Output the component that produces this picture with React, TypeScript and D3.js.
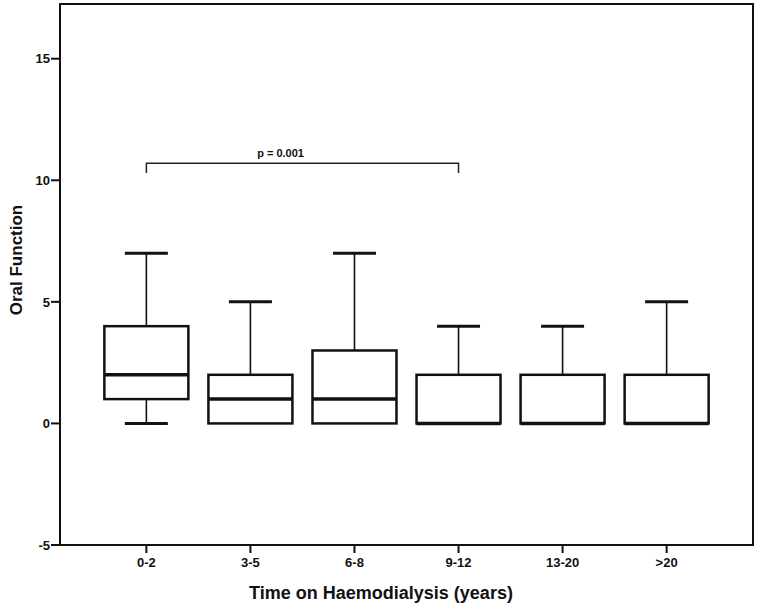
import React from "react";
import * as d3 from "d3";

// groups and five-number summaries
const groups = ["0-2", "3-5", "6-8", "9-12", "13-20", ">20"];
const mins = [0, 0, 0, 0, 0, 0];
const q1s = [1, 0, 0, 0, 0, 0];
const medians = [2, 1, 1, 0, 0, 0];
const q3s = [4, 2, 3, 2, 2, 2];
const maxs = [7, 5, 7, 4, 4, 5];

const yTicks = [-5, 0, 5, 10, 15];

// significance bracket
const bracketFrom = "0-2";
const bracketTo = "9-12";
const bracketY = 10.7;
const bracketLeg = 10.3;
const bracketLabel = "p = 0.001";

const width = 757;
const height = 608;
const margin = { top: 4, right: 4, bottom: 63, left: 60 };

const App = () => {
  const x = d3
    .scalePoint<string>()
    .domain(groups)
    .range([margin.left, width - margin.right])
    .padding(0.83);

  const y = d3
    .scaleLinear()
    .domain([-5, 17.25])
    .range([height - margin.bottom, margin.top]);

  const boxW = 84;
  const capW = 43;
  const font = "'Liberation Sans', Arial, sans-serif";

  const bx1 = x(bracketFrom) as number;
  const bx2 = x(bracketTo) as number;

  return (
    <svg
      width={width}
      height={height}
      style={{ position: "absolute", left: 0, top: 0, background: "#fff" }}
    >
      <rect x={0} y={0} width={width} height={height} fill="#fff" />

      {/* frame */}
      <rect
        x={margin.left}
        y={margin.top}
        width={width - margin.left - margin.right}
        height={height - margin.top - margin.bottom}
        fill="none"
        stroke="#111"
        strokeWidth={2}
      />

      {/* y axis ticks */}
      {yTicks.map((t) => (
        <g key={t} transform={`translate(${margin.left},${y(t)})`}>
          <line x1={-9} x2={0} stroke="#111" strokeWidth={2} />
          <text
            x={-10}
            dy="0.36em"
            textAnchor="end"
            fontFamily={font}
            fontWeight="bold"
            fontSize={13}
            fill="#111"
          >
            {t}
          </text>
        </g>
      ))}

      {/* x axis ticks */}
      {groups.map((g) => (
        <g key={g} transform={`translate(${x(g)},${height - margin.bottom})`}>
          <line y1={0} y2={8} stroke="#111" strokeWidth={2} />
          <text
            y={22}
            textAnchor="middle"
            fontFamily={font}
            fontWeight="bold"
            fontSize={13}
            fill="#111"
          >
            {g}
          </text>
        </g>
      ))}

      {/* boxes */}
      {groups.map((g, i) => {
        const cx = x(g) as number;
        return (
          <g key={g} stroke="#111" fill="none">
            {maxs[i] > q3s[i] && (
              <>
                <line x1={cx} x2={cx} y1={y(q3s[i])} y2={y(maxs[i])} strokeWidth={1.6} />
                <line
                  x1={cx - capW / 2}
                  x2={cx + capW / 2}
                  y1={y(maxs[i])}
                  y2={y(maxs[i])}
                  strokeWidth={3}
                />
              </>
            )}
            {mins[i] < q1s[i] && (
              <>
                <line x1={cx} x2={cx} y1={y(q1s[i])} y2={y(mins[i])} strokeWidth={1.6} />
                <line
                  x1={cx - capW / 2}
                  x2={cx + capW / 2}
                  y1={y(mins[i])}
                  y2={y(mins[i])}
                  strokeWidth={3}
                />
              </>
            )}
            <rect
              x={cx - boxW / 2}
              y={y(q3s[i])}
              width={boxW}
              height={y(q1s[i]) - y(q3s[i])}
              fill="#fff"
              strokeWidth={2.5}
            />
            <line
              x1={cx - boxW / 2}
              x2={cx + boxW / 2}
              y1={y(medians[i])}
              y2={y(medians[i])}
              strokeWidth={3.5}
            />
          </g>
        );
      })}

      {/* significance bracket */}
      <path
        d={`M${bx1},${y(bracketLeg)}V${y(bracketY)}H${bx2}V${y(bracketLeg)}`}
        fill="none"
        stroke="#222"
        strokeWidth={1.5}
      />
      <text
        x={bx1 + (bx2 - bx1) * 0.43}
        y={y(bracketY) - 6}
        textAnchor="middle"
        fontFamily={font}
        fontWeight="bold"
        fontSize={11}
        fill="#111"
      >
        {bracketLabel}
      </text>

      {/* axis titles */}
      <text
        x={381}
        y={599}
        textAnchor="middle"
        fontFamily={font}
        fontWeight="bold"
        fontSize={18}
        fill="#111"
      >
        Time on Haemodialysis (years)
      </text>
      <text
        transform={`translate(22,260) rotate(-90)`}
        textAnchor="middle"
        fontFamily={font}
        fontWeight="bold"
        fontSize={17}
        fill="#111"
      >
        Oral Function
      </text>
    </svg>
  );
};

export default App;
